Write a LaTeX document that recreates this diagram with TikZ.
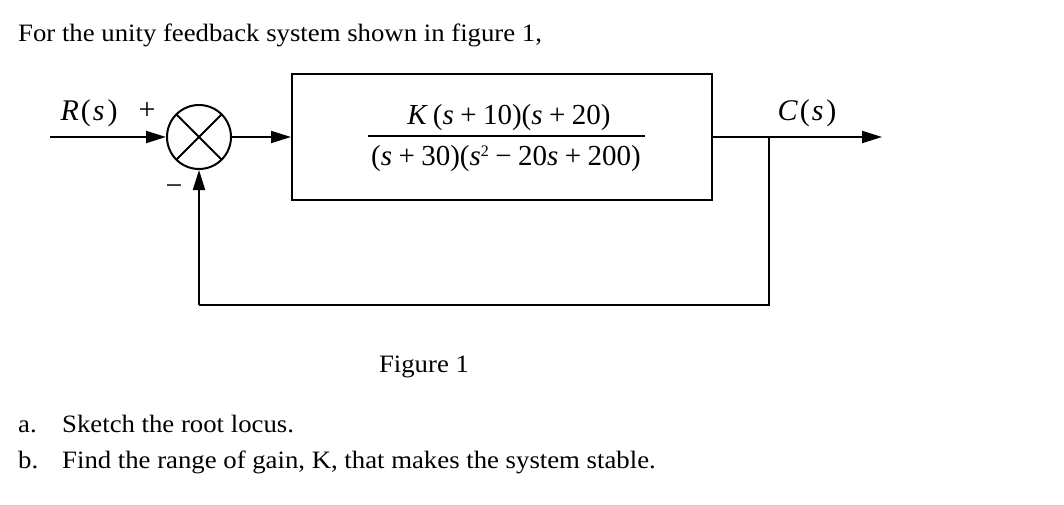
\documentclass[tikz,border=0pt]{standalone}
\usepackage{fontspec}
\setmainfont{Liberation Serif}
\newfontfamily\widefont[FakeStretch=1.07]{Liberation Serif}
\usetikzlibrary{arrows.meta}
\newcommand{\vi}[1]{\textit{#1}}
\begin{document}
\begin{tikzpicture}[x=1pt,y=-1pt,
  line/.style={line width=2pt},
  arr/.style={line width=2pt,-{Triangle[length=20pt,width=12pt]}},
  txt/.style={inner sep=0pt,anchor=base west,font=\widefont\fontsize{25}{30}\selectfont},
  lbl/.style={inner sep=0pt,anchor=base,font=\fontsize{30}{34}\selectfont},
  mth/.style={inner sep=0pt,anchor=base,font=\fontsize{29}{34}\selectfont},
  sumc/.style={circle,draw,line width=2pt,minimum size=64pt,inner sep=0pt,
    path picture={\draw[line width=2pt] ([shift={(9.5pt,-9.5pt)}]path picture bounding box.north west) -- ([shift={(-9.5pt,9.5pt)}]path picture bounding box.south east);
                  \draw[line width=2pt] ([shift={(9.5pt,9.5pt)}]path picture bounding box.south west) -- ([shift={(-9.5pt,-9.5pt)}]path picture bounding box.north east);}},
  blk/.style={draw,line width=2pt,minimum width=420pt,minimum height=126pt,inner sep=0pt}]
\useasboundingbox (0,0) rectangle (1064,505);
\node[txt] (title) at (18,42) {For the unity feedback system shown in figure 1,};
\coordinate (in) at (50,137);
\node[sumc] (sum) at (199,137) {};
\node[blk] (G) at (502,137) {};
\node[mth] (num) at (509,125) {\vi{K}\,(\vi{s}\:+\:10)(\vi{s}\:+\:20)};
\node[mth] (den) at (506,165) {(\vi{s}\:+\:30)(\vi{s}\raisebox{9pt}{\fontsize{16}{16}\selectfont 2}\:\textminus\:20\vi{s}\:+\:200)};
\coordinate (barl) at (368,136);
\coordinate (barr) at (645,136);
\draw[line width=1.6pt] (barl) -- (barr);
\coordinate (br) at (769,137);
\coordinate (out) at (882,137);
\coordinate (fb1) at (769,305);
\coordinate (fb2) at (199,305);
\draw[arr] (in) -- (sum.west);
\draw[arr] (sum.east) -- (G.west);
\draw[arr] (G.east) -- (out);
\draw[line] (br) -- (fb1) -- (fb2);
\draw[arr] (fb2) -- (sum.south);
\node[lbl] (R) at (89,121) {\vi{R}\kern2pt(\kern2pt\vi{s}\kern3pt)};
\node[lbl] (plus) at (147,120) {+};
\node[lbl] (minus) at (174,195) {\textminus};
\node[lbl] (C) at (807,121) {\vi{C}\kern2pt(\kern2pt\vi{s}\kern3pt)};
\node[txt,anchor=base] (fig) at (424,372) {Figure 1};
\node[txt] (a) at (18,432) {a.};
\node[txt] (ta) at (62,432) {Sketch the root locus.};
\node[txt] (b) at (18,468) {b.};
\node[txt] (tb) at (62,468) {Find the range of gain, K, that makes the system stable.};
\end{tikzpicture}
\end{document}
